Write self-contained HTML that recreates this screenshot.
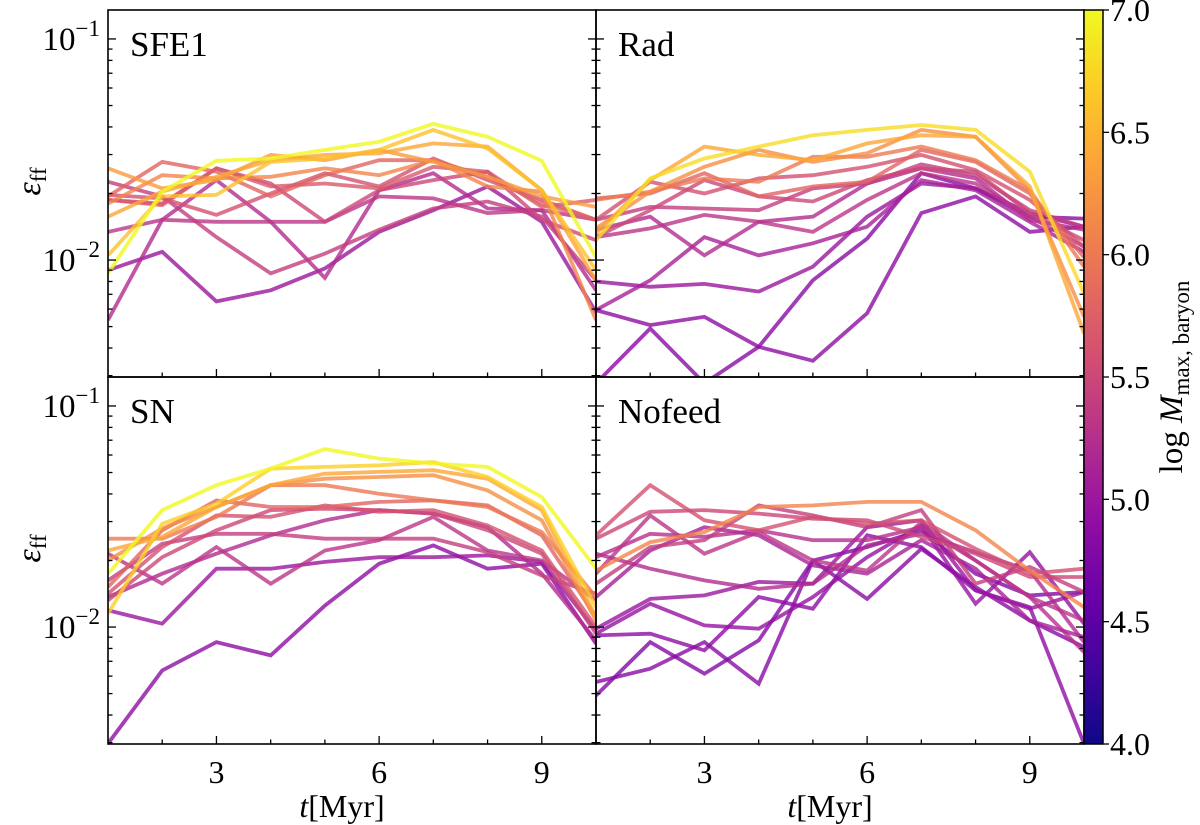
<!DOCTYPE html>
<html><head><meta charset="utf-8">
<style>
html,body{margin:0;padding:0;background:#fff;}
svg{display:block;font-family:"Liberation Serif",serif;}
</style></head>
<body>
<svg id="fig" width="1200" height="825" viewBox="0 0 1200 825" xmlns="http://www.w3.org/2000/svg"></svg>
<script>
// ---- data (eps_ff in units of 1e-2, t = 1..10 Myr) ----
const times = [1,2,3,4,5,6,7,8,9,10];
const xTicks = [3,6,9];
const cbTicks = [4.0,4.5,5.0,5.5,6.0,6.5,7.0];
const panelNames = ["SFE1","Rad","SN","Nofeed"];

const massSFE1 = [7.0,6.6,6.4,6.3,6.1,5.8,5.7,5.6,5.4,5.3,5.5,5.2,5.0];
const effSFE1 = [
 [0.87,2.04,2.81,2.88,3.15,3.43,4.13,3.61,2.81,1.03],
 [1.05,1.94,1.97,2.78,2.88,3.15,3.88,3.20,2.07,0.90],
 [1.57,2.04,2.38,2.83,2.99,3.04,3.37,3.26,2.07,0.81],
 [2.60,2.11,2.30,2.99,2.83,3.15,2.78,2.38,1.94,1.74],
 [1.80,2.42,2.34,2.38,2.60,2.42,2.83,2.15,2.04,0.535],
 [1.94,2.78,2.51,1.94,2.42,2.83,2.83,2.38,1.80,1.52],
 [1.87,1.77,2.60,2.15,2.22,2.11,2.64,2.51,1.74,1.87],
 [1.97,1.90,1.60,2.00,2.47,2.15,2.88,2.30,1.87,1.52],
 [2.26,1.94,1.27,0.87,1.07,1.37,1.71,1.84,1.57,0.81],
 [1.34,1.52,1.49,1.49,1.49,1.94,1.90,1.63,1.68,1.52],
 [1.87,1.80,2.60,2.22,1.49,2.07,2.30,2.51,1.52,1.23],
 [0.535,1.52,2.30,1.49,0.83,2.07,2.47,1.71,1.68,0.73],
 [0.90,1.09,0.65,0.73,0.917,1.34,1.68,2.15,1.49,0.58]
];

const massRad = [6.8,6.4,6.2,6.0,5.8,5.6,5.5,5.4,5.3,5.2,5.1,5.0,4.9,4.85];
const effRad = [
 [1.23,2.34,2.88,3.26,3.67,3.88,4.08,3.88,2.51,0.707],
 [1.32,2.30,3.26,2.99,2.83,3.37,3.67,3.61,2.15,0.466],
 [1.39,2.04,2.64,3.15,2.78,3.04,3.88,3.61,2.07,0.554],
 [1.87,2.04,2.34,2.26,2.93,2.93,3.26,2.83,2.07,0.933],
 [1.90,2.00,2.47,1.94,2.15,2.26,3.15,2.78,2.00,1.03],
 [1.52,2.26,2.00,2.34,2.42,2.64,2.99,2.55,1.87,1.149],
 [1.27,1.68,2.30,1.94,1.84,2.30,2.60,2.51,1.63,1.23],
 [1.52,1.74,1.71,1.68,2.11,2.22,2.71,2.42,1.68,1.415],
 [1.27,1.39,1.60,1.49,1.34,1.87,2.47,2.22,1.57,1.149],
 [1.37,1.57,1.05,1.49,1.57,2.22,2.60,2.34,1.52,1.37],
 [0.594,0.81,1.27,1.05,1.19,1.415,2.30,2.07,1.49,1.09],
 [0.80,0.757,0.78,0.72,0.933,1.57,2.22,2.11,1.63,1.415],
 [0.594,0.508,0.554,0.405,0.35,0.574,1.63,1.94,1.34,1.415],
 [0.277,0.49,0.277,0.405,0.81,1.25,2.47,2.11,1.57,1.54]
];

const massSN = [7.0,6.7,6.4,6.2,6.0,5.8,5.6,5.5,5.4,5.3,5.2,5.0,4.9];
const effSN = [
 [1.74,3.38,4.38,5.21,6.38,5.78,5.49,5.30,3.87,1.84],
 [1.149,2.93,3.61,5.21,5.30,5.39,5.58,4.77,3.49,1.23],
 [2.22,2.56,3.49,4.38,4.94,5.03,5.12,4.69,3.38,1.11],
 [2.00,2.79,3.49,4.38,4.69,4.77,4.86,4.15,3.04,1.07],
 [2.51,2.51,3.15,4.38,4.38,4.01,3.74,3.49,2.69,1.367],
 [1.517,2.74,3.74,3.49,3.49,3.68,3.74,3.55,2.60,1.11],
 [1.415,2.30,3.20,3.15,3.55,3.32,3.38,2.88,2.22,1.0],
 [1.32,2.07,2.74,3.38,3.43,3.38,3.26,2.74,2.147,0.933],
 [1.626,2.38,2.64,2.64,2.51,2.51,2.51,2.18,1.71,1.415],
 [2.147,1.57,2.30,1.57,2.22,2.47,3.15,2.22,2.0,1.32],
 [1.367,1.743,2.147,2.60,3.04,3.38,3.26,2.83,1.743,0.87],
 [1.19,1.035,1.836,1.836,1.97,2.07,2.07,2.11,1.97,0.966],
 [0.297,0.636,0.855,0.744,1.25,1.935,2.34,1.836,1.935,0.841]
];

const massNofeed = [6.1,5.6,5.5,5.4,5.3,5.2,5.1,5.0,4.95,4.9,4.85,4.8,5.25];
const effNofeed = [
 [1.80,2.42,2.69,3.49,3.55,3.68,3.68,2.74,1.80,1.23],
 [2.60,4.38,3.04,2.74,3.15,2.93,3.04,2.26,1.743,1.836],
 [2.51,3.32,3.38,3.26,3.09,3.04,2.56,2.147,1.684,1.684],
 [1.57,2.30,2.47,3.55,3.20,2.83,3.38,1.57,1.87,1.44],
 [1.743,3.20,2.147,2.69,2.0,1.80,2.98,2.0,1.367,1.07],
 [2.147,1.836,1.626,1.49,1.57,2.34,2.64,2.18,1.80,0.855],
 [1.367,2.22,2.83,2.60,1.90,1.743,2.47,1.836,1.07,0.901],
 [0.983,1.34,1.39,1.60,1.57,2.83,3.04,1.465,1.21,1.44],
 [0.933,1.275,1.017,0.983,1.367,2.07,2.88,1.275,2.18,1.035],
 [0.917,0.933,0.784,1.367,1.21,2.60,2.30,1.465,1.23,0.297],
 [0.564,0.648,0.855,0.554,2.0,1.34,2.26,1.517,1.07,0.812],
 [0.49,0.855,0.615,0.87,2.0,2.30,2.74,1.743,1.39,1.44],
 [2.07,2.64,2.56,2.74,2.47,2.47,2.83,2.0,1.367,0.77]
];

const panelEff = [effSFE1, effRad, effSN, effNofeed];
const panelMass = [massSFE1, massRad, massSN, massNofeed];

// ---- layout ----
const NS = "http://www.w3.org/2000/svg";
const svg = document.getElementById("fig");
const PX = [108, 596], PW = 488;
const PY = [10, 377], PH = 367;
const LOGMIN = -2.529, LOGMAX = -0.869;
const XMIN = 1, XMAX = 10;
const CB = {x:1084, w:19, y:10, h:734, vmin:4, vmax:7};

function el(tag, attrs, parent){
  const e = document.createElementNS(NS, tag);
  for (const k in attrs) e.setAttribute(k, attrs[k]);
  (parent||svg).appendChild(e);
  return e;
}
const plasmaStops = ["#0d0887","#41049d","#6a00a8","#8f0da4","#b12a90","#cc4778","#e16462","#f2844b","#fca636","#fcce25","#f0f921"];
function hex(h){return [parseInt(h.slice(1,3),16),parseInt(h.slice(3,5),16),parseInt(h.slice(5,7),16)];}
function plasma(f){
  f=Math.max(0,Math.min(1,f)); const p=f*10, i=Math.min(9,Math.floor(p)), r=p-i;
  const a=hex(plasmaStops[i]), b=hex(plasmaStops[i+1]);
  return "rgb("+a.map((v,k)=>Math.round(v+(b[k]-v)*r)).join(",")+")";
}

const defs = el("defs",{});
const grad = el("linearGradient",{id:"cbgrad",x1:"0",y1:"1",x2:"0",y2:"0"},defs);
for(let i=0;i<=10;i++) el("stop",{offset:(i/10),"stop-color":plasmaStops[i]},grad);

for (let p=0;p<4;p++){
  const col=p%2, row=Math.floor(p/2);
  const x0=PX[col], y0=PY[row];
  const xs = t => x0 + (t-XMIN)/(XMAX-XMIN)*PW;
  const ys = v => y0 + (LOGMAX - Math.log10(v))/(LOGMAX-LOGMIN)*PH;
  const g = el("g",{});
  
  
  const cp = el("clipPath",{id:"clip"+p},defs);
  el("rect",{x:x0,y:y0,width:PW,height:PH},cp);
  const lg = el("g",{"clip-path":"url(#clip"+p+")"},g);
  const effs = panelEff[p], masses = panelMass[p];
  const order = masses.map((m,i)=>i).sort((a,b)=>masses[a]-masses[b]);
  for (const i of order){
    const pts = times.map((t,k)=> xs(t).toFixed(1)+","+ys(effs[i][k]/100).toFixed(1)).join(" ");
    const line = el("polyline",{points:pts,fill:"none",stroke:plasma((masses[i]-CB.vmin)/(CB.vmax-CB.vmin)),"stroke-width":3.8,"stroke-opacity":0.8,"stroke-linejoin":"miter"},lg);
    
    
  }
  const fr = el("rect",{x:x0,y:y0,width:PW,height:PH,fill:"none",stroke:"#000","stroke-width":1.6},g);
  
  
  for (let dec=-3; dec<=-1; dec++){
    for (let m=1;m<=9;m++){
      const v=m*Math.pow(10,dec), lv=Math.log10(v);
      if (lv<LOGMIN||lv>LOGMAX) continue;
      const y=ys(v), L = m===1?8:4.5;
      el("line",{x1:x0,y1:y,x2:x0+L,y2:y,stroke:"#000","stroke-width":1.3},g);
      el("line",{x1:x0+PW,y1:y,x2:x0+PW-L,y2:y,stroke:"#000","stroke-width":1.3},g);
      if (m===1 && col===0){
        const tx = el("text",{x:x0-8,y:y+11,"text-anchor":"end","font-size":33},g);
        
        
        tx.innerHTML = '10<tspan dy="-14" font-size="23">\u2212'+(-dec)+'</tspan>';
      }
    }
  }
  for (let t=2;t<=9;t++){
    const x=xs(t), L = xTicks.includes(t)?8:4.5;
    el("line",{x1:x,y1:y0+PH,x2:x,y2:y0+PH-L,stroke:"#000","stroke-width":1.3},g);
  }
  if (row===1){
    for (const t of xTicks){
      const tx = el("text",{x:xs(t),y:783,"text-anchor":"middle","font-size":32},g);
      
      
      tx.textContent = t;
    }
    const xl = el("text",{x:x0+PW/2-10,y:817,"text-anchor":"middle","font-size":32},g);
    
    
    xl.innerHTML = '<tspan font-style="italic">t</tspan>[Myr]';
  }
  if (col===0){
    const yl = el("text",{x:40,y:y0+PH/2-12,"text-anchor":"middle","font-size":34,transform:"rotate(-90 40 "+(y0+PH/2-12)+")"},g);
    
    
    yl.innerHTML = '<tspan font-style="italic">\u03b5</tspan><tspan dy="6" font-size="23">ff</tspan>';
  }
  const lab = el("text",{x:x0+22,y:y0+46,"font-size":35},g);
  
  
  lab.textContent = panelNames[p];
}

const cbg = el("g",{});


el("rect",{x:CB.x,y:CB.y,width:CB.w,height:CB.h,fill:"url(#cbgrad)",stroke:"#000","stroke-width":1.5},cbg);
for (const v of cbTicks){
  const y = CB.y + CB.h - (v-CB.vmin)/(CB.vmax-CB.vmin)*CB.h;
  el("line",{x1:CB.x+CB.w,y1:y,x2:CB.x+CB.w+6,y2:y,stroke:"#000","stroke-width":1.3},cbg);
  const tx = el("text",{x:CB.x+CB.w+7,y:y+11,"font-size":32},cbg);
  
  
  tx.textContent = v.toFixed(1);
}
const cbl = el("text",{x:1182,y:377,"text-anchor":"middle","font-size":33,transform:"rotate(-90 1182 377)"},cbg);


cbl.innerHTML = 'log <tspan font-style="italic">M</tspan><tspan dy="7" font-size="23">max, baryon</tspan>';
</script>
</body></html>
